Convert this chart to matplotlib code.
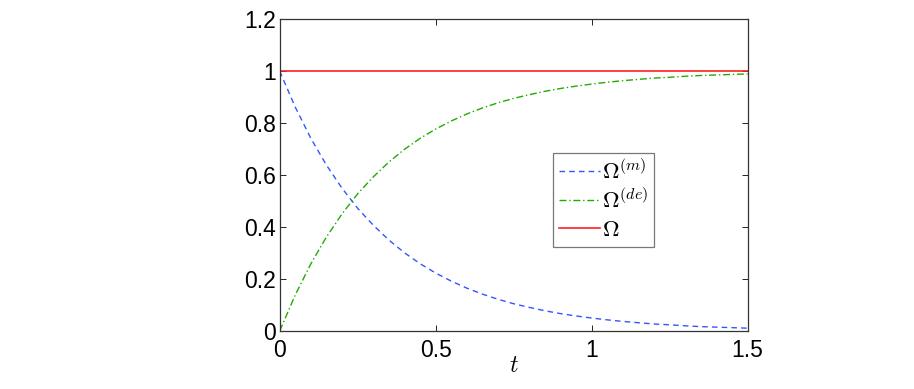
import matplotlib
matplotlib.use("Agg")
import matplotlib.pyplot as plt

# ==============================
# DATA
# ==============================

t = [0.00, 0.05, 0.10, 0.15, 0.20, 0.25, 0.30, 0.35, 0.40, 0.45,
     0.50, 0.55, 0.60, 0.65, 0.70, 0.75, 0.80, 0.85, 0.90, 0.95,
     1.00, 1.05, 1.10, 1.15, 1.20, 1.25, 1.30, 1.35, 1.40, 1.45, 1.50]

omega_m = [1.000, 0.861, 0.741, 0.638, 0.549, 0.472, 0.407, 0.350, 0.301, 0.259,
           0.223, 0.192, 0.165, 0.142, 0.122, 0.105, 0.091, 0.078, 0.067, 0.058,
           0.050, 0.043, 0.037, 0.032, 0.027, 0.024, 0.020, 0.017, 0.015, 0.013, 0.011]

omega_de = [0.000, 0.139, 0.259, 0.362, 0.451, 0.528, 0.593, 0.650, 0.699, 0.741,
            0.777, 0.808, 0.835, 0.858, 0.878, 0.895, 0.909, 0.922, 0.933, 0.942,
            0.950, 0.957, 0.963, 0.968, 0.973, 0.976, 0.980, 0.983, 0.985, 0.987, 0.989]

omega_total = [1.0] * len(t)

x_ticks = [0, 0.5, 1, 1.5]
x_tick_labels = ["0", "0.5", "1", "1.5"]
y_ticks = [0, 0.2, 0.4, 0.6, 0.8, 1.0, 1.2]
y_tick_labels = ["0", "0.2", "0.4", "0.6", "0.8", "1", "1.2"]

# ==============================
# PLOT
# ==============================

plt.rcParams["font.family"] = ["Liberation Sans", "DejaVu Sans"]
plt.rcParams["mathtext.fontset"] = "cm"

fig = plt.figure(figsize=(9.14, 3.89), dpi=100)
ax = fig.add_axes([0.306, 0.149, 0.512, 0.802])

ax.plot(t, omega_m, color="#3355ff", linestyle=(0, (4, 3)), linewidth=1.0,
        label=r"$\Omega^{(m)}$")
ax.plot(t, omega_de, color="#22aa00", linestyle=(0, (5, 2, 1, 2)), linewidth=1.0,
        label=r"$\Omega^{(de)}$")
ax.plot(t, omega_total, color="#ff2020", linewidth=1.2, label=r"$\Omega$")

ax.set_xlim(0, 1.5)
ax.set_ylim(0, 1.2)
ax.set_xticks(x_ticks)
ax.set_xticklabels(x_tick_labels)
ax.set_yticks(y_ticks)
ax.set_yticklabels(y_tick_labels)
ax.tick_params(direction="in", top=True, right=True, labelsize=16.5, length=4,
               width=0.6, pad=3)
ax.tick_params(axis="x", pad=6)
for s in ax.spines.values():
    s.set_linewidth(0.9)
    s.set_color("#333333")

ax.set_xlabel(r"$t$", fontsize=17, labelpad=-5)

leg = ax.legend(loc="center", bbox_to_anchor=(0.692, 0.42), fontsize=16.5,
                frameon=True, fancybox=False, handlelength=1.8,
                handletextpad=0.1, borderpad=0.25, labelspacing=0.2,
                borderaxespad=0)
leg.get_frame().set_edgecolor("#555555")
leg.get_frame().set_linewidth(0.9)

fig.savefig("out.png", dpi=100)
